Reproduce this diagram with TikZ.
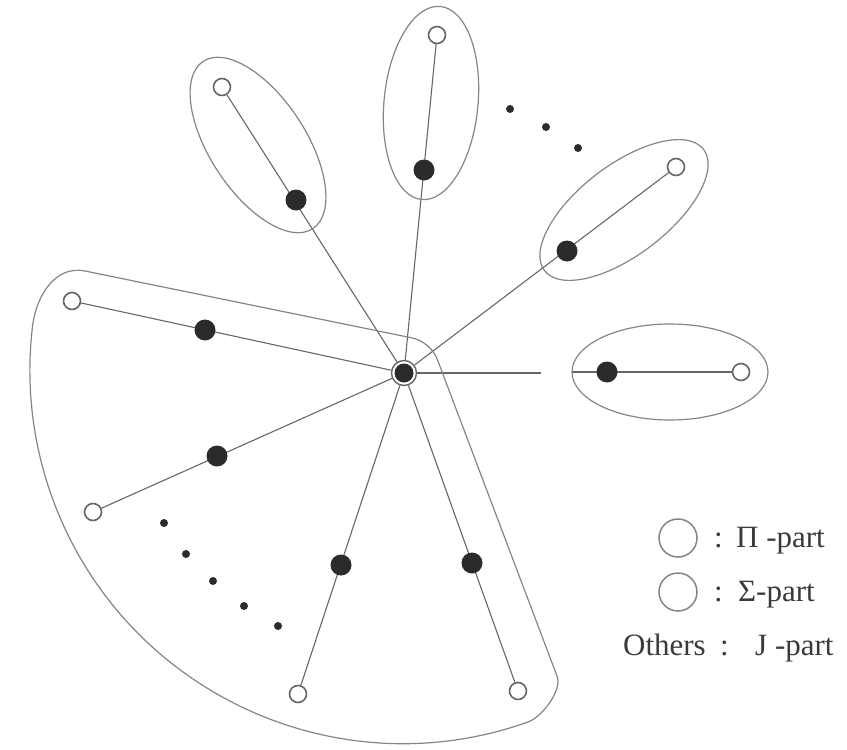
\documentclass[tikz,border=0pt]{standalone}
\usepackage{fontspec}
\setmainfont{Liberation Serif}
\usetikzlibrary{backgrounds}
\definecolor{edgec}{HTML}{666666}
\definecolor{ringc}{HTML}{858585}
\definecolor{blk}{HTML}{2B2B2B}
\definecolor{txtc}{HTML}{3A3A3A}
\begin{document}
\begin{tikzpicture}[x=1pt,y=1pt,
  wnode/.style={circle,draw=edgec,line width=1.6pt,fill=white,minimum size=17pt,inner sep=0pt},
  bnode/.style={circle,fill=blk,minimum size=21pt,inner sep=0pt},
  dotn/.style={circle,fill=blk,minimum size=8pt,inner sep=0pt},
  spoke/.style={draw=edgec,line width=1.1pt},
  hull/.style={draw=ringc,line width=1.2pt},
  legc/.style={circle,draw=ringc,line width=1.5pt,minimum size=38pt,inner sep=0pt},
  lab/.style={inner sep=0pt,text=txtc,font=\fontsize{31}{36}\selectfont}]
\useasboundingbox (0,0) rectangle (847,-750);
% hub
\node[circle,draw=edgec,line width=1.4pt,fill=white,minimum size=25pt,inner sep=0pt] (hub) at (404,-373) {};
\node[circle,fill=blk,minimum size=19pt,inner sep=0pt] (hubc) at (hub) {};
% white (outer) nodes
\node[wnode] (w1) at (72,-301) {};
\node[wnode] (w2) at (93,-512) {};
\node[wnode] (w3) at (298,-694) {};
\node[wnode] (w4) at (518,-691) {};
\node[wnode] (w5) at (741,-372) {};
\node[wnode] (w6) at (676,-167) {};
\node[wnode] (w7) at (437,-35) {};
\node[wnode] (w8) at (222,-87) {};
% black (inner) nodes
\node[bnode] (b1) at (205,-330) {};
\node[bnode] (b2) at (217,-456) {};
\node[bnode] (b3) at (341,-565) {};
\node[bnode] (b4) at (472,-563) {};
\node[bnode] (b5) at (607,-372) {};
\node[bnode] (b6) at (567,-251) {};
\node[bnode] (b7) at (424,-170) {};
\node[bnode] (b8) at (296,-200) {};
% gap on right spoke
\coordinate (g1) at (541,-373);
\coordinate (g2) at (572,-372);
% dots
\node[dotn] (d1) at (510,-109) {};
\node[dotn] (d2) at (546,-127) {};
\node[dotn] (d3) at (578,-148) {};
\node[dotn] (d4) at (164,-523) {};
\node[dotn] (d5) at (186,-554) {};
\node[dotn] (d6) at (213,-581) {};
\node[dotn] (d7) at (244,-606) {};
\node[dotn] (d8) at (278,-626) {};
\begin{scope}[on background layer]
  \foreach \i in {1,2,3,4,6,7,8} {\draw[spoke] (hub) -- (w\i);}
  \draw[spoke] (hub) -- (g1);
  \draw[spoke] (g2) -- (w5);
  % groups
  \draw[hull, rotate around={-56.8:(258,-145)}] (258,-145) ellipse[x radius=100, y radius=48];
  \draw[hull, rotate around={84.5:(431,-103)}] (431,-103) ellipse[x radius=97, y radius=47];
  \draw[hull, rotate around={37.3:(624,-210)}] (624,-210) ellipse[x radius=100, y radius=45];
  \draw[hull] (670,-372) ellipse[x radius=98, y radius=48];
  \draw[hull] (411.5,-337.8) arc[start angle=78, end angle=19.7, radius=36]
     -- (557,-676) .. controls (562.7,-690) and (542,-717) .. (528,-722)
     arc[start angle=-70.4, end angle=-187, radius=373]
     .. controls (36.6,-295.2) and (55.6,-265.1) .. (85,-271) -- cycle;
\end{scope}
% legend
\node[legc] (l1) at (678,-538) {};
\node[legc] (l2) at (678,-592) {};
\node[lab,anchor=base west] (c1) at (714,-547) {:};
\node[lab,anchor=base west] (t1) at (736,-547) {Π -part};
\node[lab,anchor=base west] (c2) at (714,-601) {:};
\node[lab,anchor=base west] (t2) at (738,-601) {Σ-part};
\node[lab,anchor=base east] (o3) at (706,-655) {Others};
\node[lab,anchor=base west] (c3) at (720,-655) {:};
\node[lab,anchor=base west] (t3) at (755,-655) {J -part};
\end{tikzpicture}
\end{document}
